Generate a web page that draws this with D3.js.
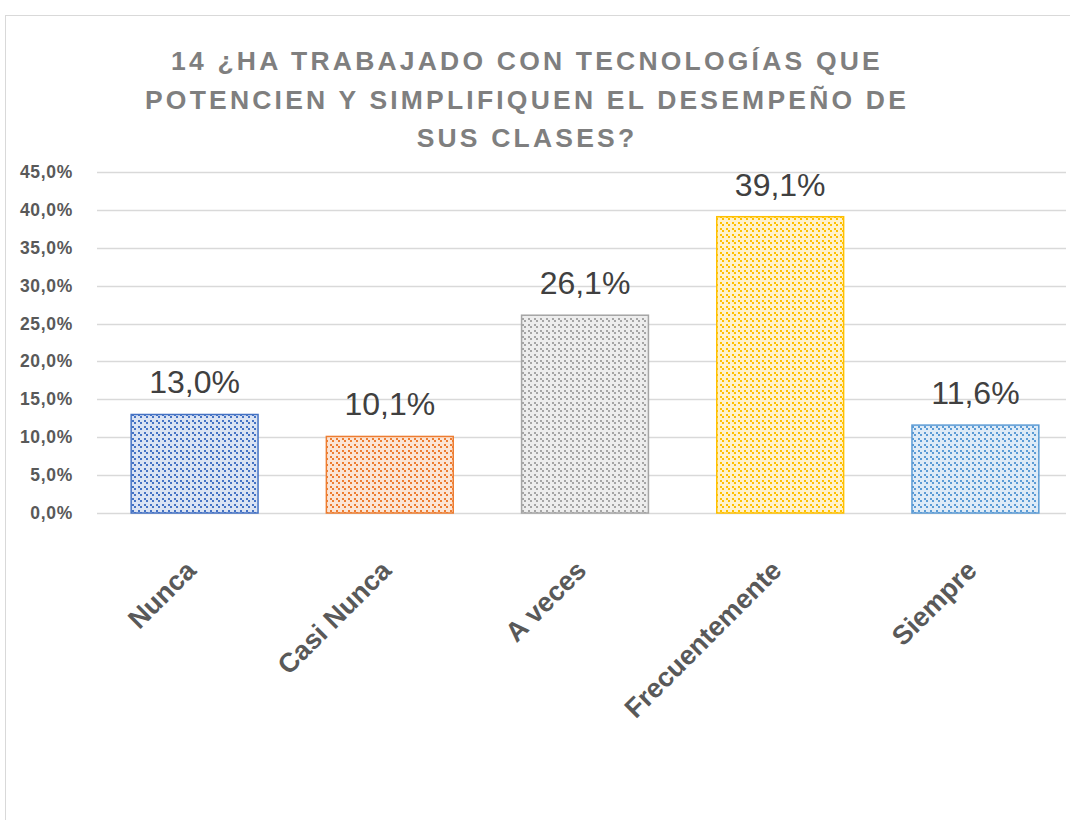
<!DOCTYPE html>
<html>
<head>
<meta charset="utf-8">
<script src="https://cdn.jsdelivr.net/npm/d3@7"></script>
<style>
  body { margin: 0; background: #fff; }
  svg text { font-family: "Liberation Sans", Arial, sans-serif; }
</style>
</head>
<body>
<div id="chart"></div>
<script>
// Datos del gráfico
var categorias = ["Nunca", "Casi Nunca", "A veces", "Frecuentemente", "Siempre"];
var valores = [13.0, 10.1, 26.1, 39.1, 11.6];
var colores = ["#4472C4", "#ED7D31", "#A5A5A5", "#FFC000", "#5B9BD5"];
var fondos = ["#DAE3F3", "#FBE5D6", "#EDEDED", "#FFF2CC", "#DEEBF7"];
var ticksY = [0, 5, 10, 15, 20, 25, 30, 35, 40, 45];
var titulo = ["14 ¿HA TRABAJADO CON TECNOLOGÍAS QUE",
              "POTENCIEN Y SIMPLIFIQUEN EL DESEMPEÑO DE",
              "SUS CLASES?"];

var width = 1070, height = 820;
var margin = {top: 172, right: 0, bottom: 307, left: 97};

var svg = d3.select("#chart").append("svg")
    .attr("width", width)
    .attr("height", height);

// Marco del área del gráfico
svg.append("rect")
    .attr("x", 5.5).attr("y", 15.5)
    .attr("width", 1100).attr("height", 900)
    .attr("fill", "#fff")
    .attr("stroke", "#d9d9d9");

// Patrones de relleno (diagonal hacia abajo a trazos)
var defs = svg.append("defs");
colores.forEach(function(c, i) {
    var p = defs.append("pattern")
        .attr("id", "pat" + i)
        .attr("patternUnits", "userSpaceOnUse")
        .attr("width", 12).attr("height", 12);
    p.append("rect").attr("width", 12).attr("height", 12).attr("fill", fondos[i]);
    [[0, 0], [2, 2], [6, 6], [8, 8], [6, 0], [8, 2], [0, 6], [2, 8]].forEach(function(s) {
        p.append("rect").attr("x", s[0]).attr("y", s[1])
            .attr("width", 2).attr("height", 2).attr("fill", c);
    });
});

var x = d3.scaleBand()
    .domain(categorias)
    .range([margin.left, 1073])
    .paddingInner(0.35)
    .paddingOuter(0.175);

var y = d3.scaleLinear()
    .domain([0, 45])
    .range([height - margin.bottom, margin.top]);

// Líneas de cuadrícula
svg.append("g").selectAll("line")
    .data(ticksY)
    .enter().append("line")
    .attr("x1", margin.left).attr("x2", 1066)
    .attr("y1", function(d) { return Math.round(y(d)) + 0.5; })
    .attr("y2", function(d) { return Math.round(y(d)) + 0.5; })
    .attr("stroke", "#d9d9d9")
    .attr("stroke-width", 1.5);

// Etiquetas eje Y
var fmt = function(v) { return v.toFixed(1).replace(".", ",") + "%"; };
svg.append("g").selectAll("text")
    .data(ticksY)
    .enter().append("text")
    .attr("x", 73)
    .attr("y", function(d) { return y(d) + 6; })
    .attr("text-anchor", "end")
    .attr("font-size", 17.5)
    .attr("font-weight", "bold")
    .attr("letter-spacing", 0.7)
    .attr("fill", "#595959")
    .text(fmt);

// Barras
svg.append("g").selectAll("rect")
    .data(valores)
    .enter().append("rect")
    .attr("x", function(d, i) { return x(categorias[i]); })
    .attr("y", function(d) { return y(d); })
    .attr("width", x.bandwidth())
    .attr("height", function(d) { return y(0) - y(d); })
    .attr("fill", function(d, i) { return "url(#pat" + i + ")"; })
    .attr("stroke", function(d, i) { return colores[i]; })
    .attr("stroke-width", 1.5);

// Etiquetas de datos
svg.append("g").selectAll("text")
    .data(valores)
    .enter().append("text")
    .attr("x", function(d, i) { return x(categorias[i]) + x.bandwidth() / 2; })
    .attr("y", function(d) { return y(d) - 21; })
    .attr("text-anchor", "middle")
    .attr("font-size", 32)
    .attr("fill", "#404040")
    .text(fmt);

// Etiquetas eje X (rotadas)
svg.append("g").selectAll("text")
    .data(categorias)
    .enter().append("text")
    .attr("transform", function(d) {
        return "translate(" + (x(d) + x.bandwidth() / 2 + 3) + "," + 572 + ") rotate(-45)";
    })
    .attr("text-anchor", "end")
    .attr("font-size", 27)
    .attr("font-weight", "bold")
    .attr("fill", "#595959")
    .text(function(d) { return d; });

// Título
svg.append("g").selectAll("text")
    .data(titulo)
    .enter().append("text")
    .attr("x", 527)
    .attr("y", function(d, i) { return 70 + i * 38.5; })
    .attr("text-anchor", "middle")
    .attr("font-size", 26.5)
    .attr("font-weight", "bold")
    .attr("letter-spacing", 3.2)
    .attr("fill", "#7f7f7f")
    .text(function(d) { return d; });
</script>
</body>
</html>
